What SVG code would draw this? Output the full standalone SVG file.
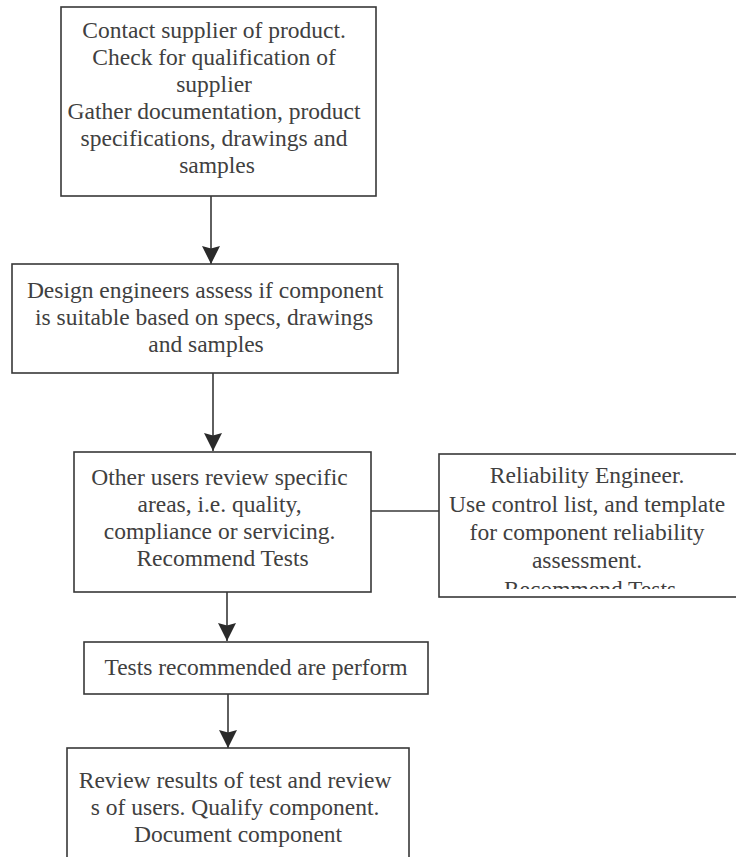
<svg xmlns="http://www.w3.org/2000/svg" width="736" height="857" viewBox="0 0 736 857">
  <defs>
    <style>
      .box { fill: #ffffff; stroke: #383838; stroke-width: 1.6; }
      .lbl { font-family: "Liberation Serif", "Times New Roman", serif; font-size: 23.5px; fill: #404040; text-anchor: middle; }
      .conn { stroke: #383838; stroke-width: 1.6; fill: none; }
    </style>
    <marker id="arrow" markerUnits="userSpaceOnUse" markerWidth="22" markerHeight="22" viewBox="-20 -11 22 22" refX="0" refY="0" orient="auto">
      <path d="M -18,-9 L -15.5,0 L -18,9 L 0,0 Z" fill="#2a2a2a"/>
    </marker>
    <clipPath id="clipRel">
      <rect x="439" y="454" width="306" height="135"/>
    </clipPath>
  </defs>
  <rect x="0" y="0" width="736" height="857" fill="#ffffff"/>

  <g id="connectors">
    <line class="conn" x1="211" y1="196" x2="211" y2="264" marker-end="url(#arrow)"/>
    <line class="conn" x1="213" y1="373" x2="213" y2="451" marker-end="url(#arrow)"/>
    <line class="conn" x1="227" y1="592" x2="227" y2="641" marker-end="url(#arrow)"/>
    <line class="conn" x1="228" y1="694" x2="228" y2="748" marker-end="url(#arrow)"/>
    <line class="conn" x1="371" y1="511" x2="439" y2="511"/>
  </g>

  <g id="n1">
    <rect class="box" x="61" y="7" width="315" height="189"/>
    <text class="lbl">
      <tspan x="217" y="38">Contact supplier of product.</tspan>
      <tspan x="217" y="65">Check for qualification of</tspan>
      <tspan x="217" y="92">supplier</tspan>
      <tspan x="217" y="119">Gather documentation, product</tspan>
      <tspan x="217" y="146">specifications, drawings and</tspan>
      <tspan x="217" y="173">samples</tspan>
    </text>
  </g>

  <g id="n2">
    <rect class="box" x="12" y="264" width="386" height="109"/>
    <text class="lbl">
      <tspan x="208" y="298">Design engineers assess if component</tspan>
      <tspan x="207" y="325">is suitable based on specs, drawings</tspan>
      <tspan x="206" y="352">and samples</tspan>
    </text>
  </g>

  <g id="n3">
    <rect class="box" x="74" y="452" width="297" height="140"/>
    <text class="lbl">
      <tspan x="222.5" y="485">Other users review specific</tspan>
      <tspan x="222.5" y="512">areas, i.e. quality,</tspan>
      <tspan x="222.5" y="539">compliance or servicing.</tspan>
      <tspan x="222.5" y="566">Recommend Tests</tspan>
    </text>
  </g>

  <g id="n4">
    <rect class="box" x="439" y="454" width="306" height="143"/>
    <text class="lbl" clip-path="url(#clipRel)">
      <tspan x="590" y="483">Reliability Engineer.</tspan>
      <tspan x="590" y="511.5">Use control list, and template</tspan>
      <tspan x="590" y="540">for component reliability</tspan>
      <tspan x="590" y="568">assessment.</tspan>
      <tspan x="590" y="596.5">Recommend Tests</tspan>
    </text>
  </g>

  <g id="n5">
    <rect class="box" x="84" y="642" width="344" height="52"/>
    <text class="lbl">
      <tspan x="256" y="675">Tests recommended are perform</tspan>
    </text>
  </g>

  <g id="n6">
    <rect class="box" x="67" y="748" width="342" height="120"/>
    <text class="lbl">
      <tspan x="238" y="788">Review results of test and review</tspan>
      <tspan x="238" y="815">s of users. Qualify component.</tspan>
      <tspan x="238" y="842">Document component</tspan>
    </text>
  </g>
</svg>
